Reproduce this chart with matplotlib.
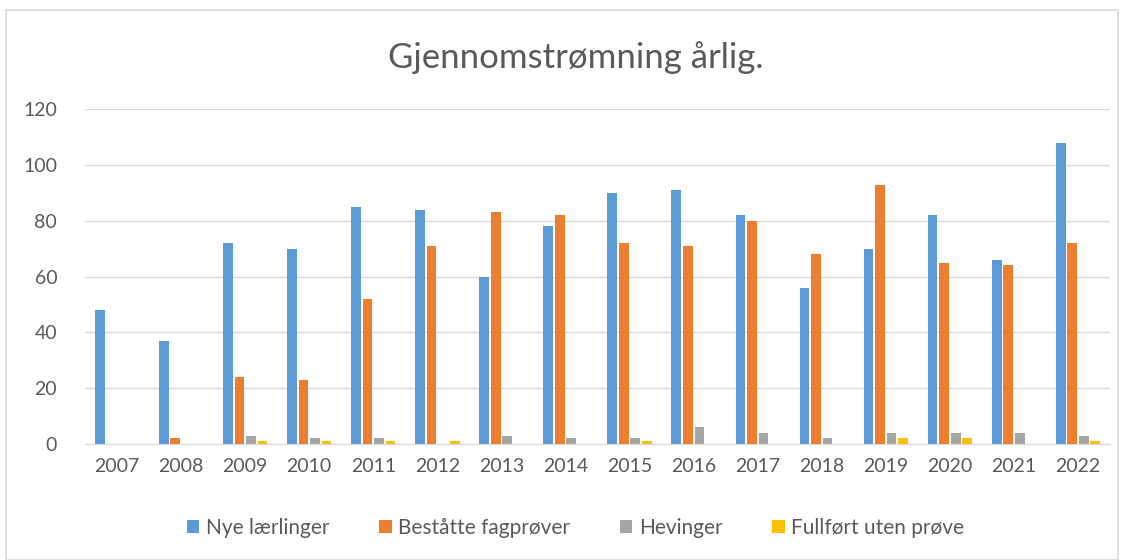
import matplotlib
matplotlib.use("Agg")
import matplotlib.pyplot as plt
import numpy as np
from matplotlib.patches import Rectangle

years = ["2007", "2008", "2009", "2010", "2011", "2012", "2013", "2014",
         "2015", "2016", "2017", "2018", "2019", "2020", "2021", "2022"]
nye = [48, 37, 72, 70, 85, 84, 60, 78, 90, 91, 82, 56, 70, 82, 66, 108]
bestatt = [0, 2, 24, 23, 52, 71, 83, 82, 72, 71, 80, 68, 93, 65, 64, 72]
hevinger = [0, 0, 3, 2, 2, 0, 3, 2, 2, 6, 4, 2, 4, 4, 4, 3]
fullfort = [0, 0, 1, 1, 1, 1, 0, 0, 1, 0, 0, 0, 2, 2, 0, 1]

series = [("Nye lærlinger", nye, "#5B9BD5"),
          ("Beståtte fagprøver", bestatt, "#ED7D31"),
          ("Hevinger", hevinger, "#A5A5A5"),
          ("Fullført uten prøve", fullfort, "#FFC000")]

plt.rcParams['font.family'] = ['Lato', 'DejaVu Sans']
txt = "#595959"

fig = plt.figure(figsize=(11.24, 5.6), dpi=100)
fig.patches.append(Rectangle((0.005, 0.0), 0.99, 0.982, transform=fig.transFigure,
                             fill=False, edgecolor="#d9d9d9", linewidth=1.2))
ax = fig.add_axes([0.0756, 0.207, 0.912, 0.598])

x = np.arange(len(years))
step = 0.18
w = 0.152
for i, (name, vals, col) in enumerate(series):
    ax.bar(x + (i - 1.5) * step, vals, width=w, color=col, label=name, zorder=3)

ax.set_xlim(-0.5, len(years) - 0.5)
ax.set_ylim(0, 120)
ax.set_yticks(range(0, 121, 20))
ax.set_xticks(x)
ax.set_xticklabels(years)
ax.grid(axis="y", color="#d9d9d9", linewidth=1, zorder=0)
for s in ["top", "right", "left"]:
    ax.spines[s].set_visible(False)
ax.spines["bottom"].set_color("#d9d9d9")
ax.tick_params(axis="both", length=0, labelsize=14, labelcolor=txt)
ax.tick_params(axis="x", pad=10)
ax.tick_params(axis="y", pad=20)

fig.text(0.512, 0.898, "Gjennomstrømning årlig.", ha="center", va="center",
         fontsize=25, color=txt)

fig.legend(loc="center", bbox_to_anchor=(0.512, 0.057), ncol=4, frameon=False,
           fontsize=15, labelcolor=txt, handlelength=0.6, handleheight=0.6,
           handletextpad=0.3, columnspacing=2.4)

fig.savefig("out.png", dpi=100)
